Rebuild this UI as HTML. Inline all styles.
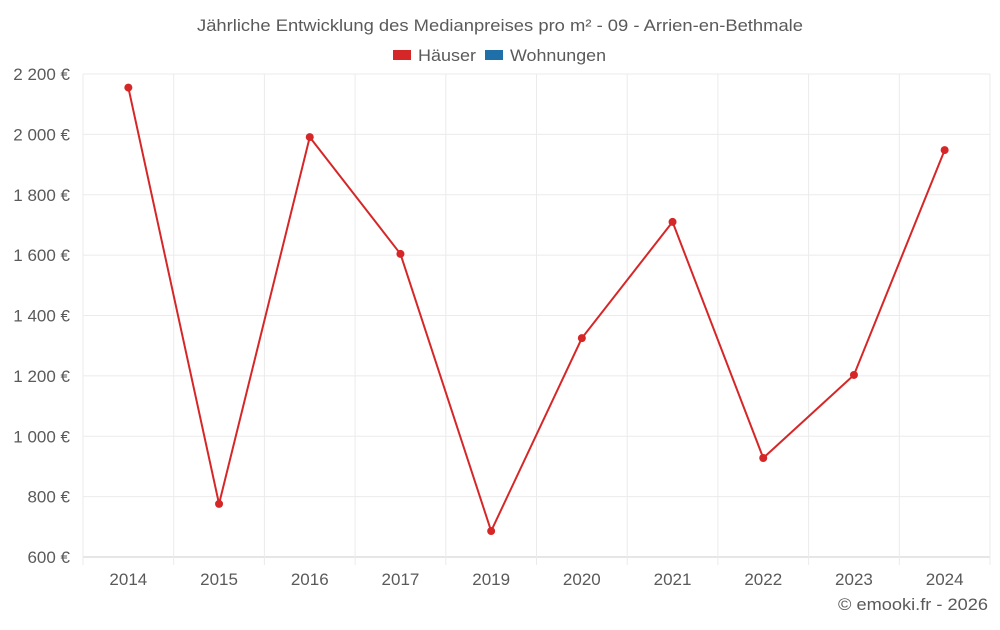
<!DOCTYPE html>
<html><head><meta charset="utf-8"><style>
body{margin:0;background:#fff;font-family:"Liberation Sans",sans-serif;}
svg text{font-family:"Liberation Sans",sans-serif;fill:#5a5a5a;}
</style></head><body>
<svg width="1000" height="625" id="c">
<text x="197" y="31" font-size="17" textLength="606" lengthAdjust="spacingAndGlyphs">Jährliche Entwicklung des Medianpreises pro m² - 09 - Arrien-en-Bethmale</text>
<g>
<g><rect x="393" y="50" width="18" height="10" fill="#d62728"/><text x="418" y="61" font-size="17" textLength="58" lengthAdjust="spacingAndGlyphs">Häuser</text></g>
<g><rect x="485" y="50" width="18" height="10" fill="#1f6fa8"/><text x="510" y="61" font-size="17" textLength="96" lengthAdjust="spacingAndGlyphs">Wohnungen</text></g>
</g>
<g id="grid"></g><g id="axes"></g><g id="series"></g>
<text x="838" y="610" font-size="17" textLength="150" lengthAdjust="spacingAndGlyphs">© emooki.fr - 2026</text>
</svg>
<script>
const categories=["2014","2015","2016","2017","2019","2020","2021","2022","2023","2024"];
const haeuser=[2155,776,1991,1604,686,1325,1710,928,1203,1948];
const yTicks=[600,800,1000,1200,1400,1600,1800,2000,2200];
const yTickLabels=["600 €","800 €","1 000 €","1 200 €","1 400 €","1 600 €","1 800 €","2 000 €","2 200 €"];
const L=83,R=990,T=74,B=557,ymin=600,ymax=2200;
const NS="http://www.w3.org/2000/svg";
const bw=(R-L)/categories.length;
function x(i){return L+bw*(i+0.5);}
function y(v){return B-(v-ymin)/(ymax-ymin)*(B-T);}
function mk(t,a,p){const e=document.createElementNS(NS,t);for(const k in a)e.setAttribute(k,a[k]);p.appendChild(e);return e;}
const g=document.getElementById('grid'),ax=document.getElementById('axes'),s=document.getElementById('series');
yTicks.forEach((v,i)=>{
 const l=mk('line',{x1:L,x2:R,y1:y(v),y2:y(v),stroke:i==0?'#ccc':'#ebebeb'},g);
 
 
 const t=mk('text',{x:70,y:y(v)+6,'text-anchor':'end','font-size':17},ax);t.textContent=yTickLabels[i];
 
 
});
for(let i=0;i<=categories.length;i++){
 const xx=L+bw*i;
 const l=mk('line',{x1:xx,x2:xx,y1:T,y2:B+8,stroke:'#ebebeb'},g);
 
 
}
categories.forEach((c,i)=>{
 const t=mk('text',{x:x(i),y:585,'text-anchor':'middle','font-size':17},ax);t.textContent=c;
 
 
});
const pl=mk('polyline',{points:haeuser.map((v,i)=>x(i)+','+y(v)).join(' '),fill:'none',stroke:'#d62728','stroke-width':2},s);


haeuser.forEach((v,i)=>{
 const c=mk('circle',{cx:x(i),cy:y(v),r:4,fill:'#d62728'},s);
 
 
});
</script>
</body></html>
